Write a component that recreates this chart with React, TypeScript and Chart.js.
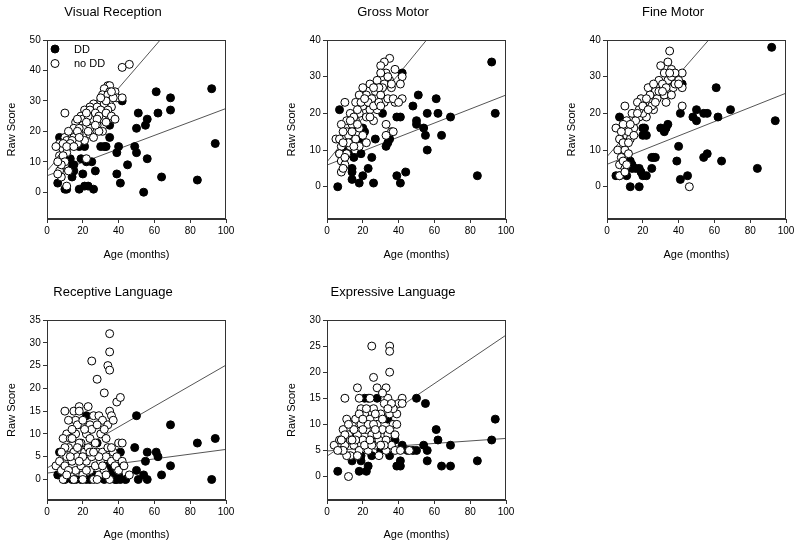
import React, { useEffect, useRef } from "react";
import { Chart, registerables } from "chart.js";

Chart.register(...registerables);

type P = [number, number];

const FONT = "'Liberation Sans', Arial, Helvetica, sans-serif";

const panelTitles = ["Visual Reception", "Gross Motor", "Fine Motor", "Receptive Language", "Expressive Language"];
const xAxisTitle = "Age (months)";
const yAxisTitle = "Raw Score";
const legendLabels = ["DD", "no DD"];

const xTicks = [0, 20, 40, 60, 80, 100];
const vrTicks = [0, 10, 20, 30, 40, 50];
const gmTicks = [0, 10, 20, 30, 40];
const fmTicks = [0, 10, 20, 30, 40];
const rlTicks = [0, 5, 10, 15, 20, 25, 30, 35];
const elTicks = [0, 5, 10, 15, 20, 25, 30];

// ---------- Visual Reception ----------
const vrDD: P[] = [
  [6, 3], [7, 18], [10, 1], [11, 1], [13, 11], [13, 9], [13, 7], [14, 5], [15, 7], [15, 9],
  [18, 15], [21, 15], [19, 11], [20, 6], [18, 1], [21, 2], [23, 2], [26, 1], [22, 10], [25, 10],
  [27, 7], [30, 15], [32, 15], [33, 15], [35, 22], [35, 18], [42, 30], [40, 15], [39, 13], [39, 6],
  [41, 3], [45, 9], [49, 15], [50, 13], [50, 21], [51, 26], [54, 0], [55, 22], [56, 24], [56, 11],
  [61, 33], [62, 26], [64, 5], [69, 31], [69, 27], [84, 4], [92, 34], [94, 16],
];
const vrNoDD: P[] = [
  [42, 41], [46, 42], [10, 26], [34, 35], [35, 35], [32, 34], [35, 33], [38, 33], [31, 32], [34, 32],
  [39, 31], [30, 30], [35, 30], [42, 31], [26, 29], [32, 29], [36, 28], [24, 28], [28, 28], [21, 27],
  [24, 27], [30, 27], [34, 27], [19, 25], [26, 25], [37, 24], [20, 24], [25, 24], [31, 24], [16, 23],
  [20, 22], [28, 22], [24, 21], [15, 21], [20, 21], [31, 20], [13, 19], [18, 19], [24, 19], [10, 18],
  [15, 18], [21, 17], [11, 17], [17, 16], [7, 16], [5, 15], [12, 15], [9, 14], [7, 12], [11, 13],
  [8, 11], [10, 9], [7, 7], [12, 7], [8, 5], [6, 6], [11, 2], [22, 11], [23, 25], [27, 26],
  [29, 25], [33, 26], [36, 25], [38, 24], [33, 23], [28, 24], [22, 23], [18, 21], [17, 20], [14, 17],
  [13, 16], [9, 12], [10, 10], [8, 9], [9, 16], [6, 10], [26, 18], [29, 20], [33, 30], [37, 31],
  [36, 33], [30, 31], [22, 26], [17, 24], [12, 20], [11, 15], [15, 15], [18, 18], [23, 20], [27, 22],
];
const vrFitNoDD: P[] = [[0, 7.0], [100, 75.0]];
const vrFitDD: P[] = [[0, 5.4], [100, 27.5]];

// ---------- Gross Motor ----------
const gmDD: P[] = [
  [6, 0], [7, 21], [7, 9], [14, 5], [14, 4], [14, 2], [15, 8], [18, 1], [19, 13], [19, 9],
  [20, 3], [20, 16], [21, 15], [23, 5], [25, 8], [26, 1], [27, 13], [31, 20], [33, 11], [34, 12],
  [35, 13], [39, 3], [39, 19], [41, 19], [41, 1], [42, 31], [44, 4], [48, 22], [51, 25], [50, 18],
  [50, 17], [54, 16], [55, 14], [56, 20], [56, 10], [61, 24], [62, 20], [64, 14], [69, 19], [84, 3],
  [92, 34], [94, 20], [12, 9], [10, 10],
];
const gmNoDD: P[] = [
  [35, 35], [32, 34], [38, 32], [30, 33], [33, 31], [30, 31], [35, 29], [42, 30], [41, 28], [28, 29],
  [24, 28], [32, 28], [20, 27], [27, 26], [36, 27], [22, 25], [30, 25], [18, 25], [25, 24], [32, 23],
  [38, 23], [42, 24], [10, 23], [16, 23], [20, 22], [24, 21], [28, 21], [13, 20], [18, 20], [22, 19],
  [11, 18], [16, 18], [26, 18], [8, 17], [14, 17], [33, 17], [11, 15], [18, 16], [36, 15], [5, 13],
  [10, 13], [16, 13], [33, 14], [8, 11], [13, 11], [18, 11], [7, 9], [11, 9], [8, 7], [10, 6],
  [8, 4], [9, 5], [12, 14], [14, 15], [20, 14], [22, 12], [15, 19], [19, 23], [23, 23], [26, 22],
  [29, 23], [34, 24], [37, 24], [31, 27], [29, 27], [34, 30], [36, 28], [26, 27], [21, 24], [17, 21],
  [13, 18], [9, 15], [7, 13], [12, 12], [15, 11], [10, 8], [9, 12], [17, 17], [24, 19], [30, 22],
  [37, 15], [40, 23],
];
const gmFitNoDD: P[] = [[0, 6.8], [100, 66.5]];
const gmFitDD: P[] = [[0, 5.9], [100, 25.0]];

// ---------- Fine Motor ----------
const fmDD: P[] = [
  [5, 3], [7, 3], [7, 19], [11, 3], [13, 7], [14, 6], [14, 5], [13, 0], [18, 0], [18, 5],
  [19, 4], [20, 3], [22, 3], [16, 5], [20, 14], [20, 16], [21, 16], [22, 14], [25, 8], [26, 8],
  [27, 8], [25, 5], [30, 16], [32, 15], [33, 16], [34, 17], [39, 7], [40, 11], [41, 20], [41, 2],
  [42, 28], [45, 3], [48, 19], [50, 18], [50, 21], [54, 20], [56, 20], [54, 8], [56, 9], [61, 27],
  [62, 19], [64, 7], [69, 21], [84, 5], [92, 38], [94, 18],
];
const fmNoDD: P[] = [
  [35, 37], [30, 33], [34, 34], [36, 32], [32, 31], [39, 30], [42, 31], [29, 29], [34, 29], [40, 29],
  [37, 27], [42, 27], [23, 27], [27, 26], [32, 25], [19, 24], [24, 25], [36, 25], [10, 22], [17, 23],
  [21, 22], [14, 20], [26, 21], [42, 22], [11, 18], [18, 19], [22, 19], [5, 16], [9, 17], [15, 16],
  [11, 14], [7, 13], [13, 13], [6, 10], [10, 10], [8, 8], [7, 6], [10, 5], [7, 3], [10, 4],
  [46, 0], [12, 15], [16, 18], [20, 20], [24, 23], [28, 24], [31, 28], [33, 27], [36, 30], [38, 28],
  [26, 28], [22, 24], [18, 21], [13, 17], [9, 12], [12, 9], [8, 15], [15, 14], [20, 22], [25, 22],
  [29, 26], [33, 23], [38, 31], [40, 28], [35, 31], [31, 26], [27, 23], [23, 21], [17, 20], [12, 12],
  [9, 7], [11, 6],
];
const fmFitNoDD: P[] = [[0, 8.2], [100, 64.2]];
const fmFitDD: P[] = [[0, 6.1], [100, 25.5]];

// ---------- Receptive Language ----------
const rlDD: P[] = [
  [94, 9], [84, 8], [92, 0], [69, 12], [69, 3], [64, 1], [61, 6], [62, 5], [56, 6], [55, 4],
  [54, 1], [50, 14], [49, 7], [50, 2], [51, 0], [56, 0], [41, 6], [42, 3], [39, 0], [40, 1],
  [44, 0], [41, 0], [28, 8], [22, 14], [7, 6], [6, 1], [34, 3], [35, 2], [26, 1], [19, 0],
  [14, 0], [22, 0], [32, 0], [38, 0], [12, 1], [16, 0], [24, 0], [30, 1], [36, 1], [10, 0],
];
const rlNoDD: P[] = [
  [35, 32], [35, 28], [25, 26], [34, 25], [35, 24], [28, 22], [32, 19], [39, 17], [41, 18], [10, 15],
  [15, 15], [18, 16], [23, 16], [18, 15], [35, 15], [36, 14], [26, 14], [29, 14], [31, 13], [16, 13],
  [19, 12], [24, 12], [34, 12], [37, 13], [11, 10], [16, 10], [22, 10], [30, 10], [9, 9], [13, 9],
  [19, 8], [24, 9], [33, 9], [40, 8], [42, 8], [5, 3], [7, 4], [8, 2], [9, 0], [10, 3],
  [11, 5], [12, 7], [13, 1], [14, 4], [15, 6], [16, 2], [17, 5], [18, 8], [19, 3], [20, 1],
  [21, 6], [22, 4], [23, 7], [24, 2], [25, 5], [26, 0], [27, 3], [28, 6], [29, 1], [30, 4],
  [31, 6], [32, 2], [33, 5], [34, 7], [35, 0], [36, 4], [37, 6], [38, 3], [39, 5], [42, 4],
  [46, 1], [10, 7], [12, 2], [14, 9], [17, 7], [20, 5], [22, 2], [24, 6], [27, 8], [29, 5],
  [31, 3], [33, 1], [36, 7], [13, 5], [18, 4], [26, 6], [15, 0], [20, 0], [28, 0], [8, 6],
  [11, 1], [40, 2], [43, 3], [25, 11], [28, 12], [21, 11], [17, 12], [14, 11], [32, 11], [12, 13],
  [20, 13],
];
const rlFitNoDD: P[] = [[0, 2.5], [100, 25.1]];
const rlFitDD: P[] = [[0, 1.4], [100, 6.6]];

// ---------- Expressive Language ----------
const elDD: P[] = [
  [6, 1], [13, 8], [14, 3], [19, 4], [19, 3], [18, 1], [22, 1], [23, 2], [21, 15], [23, 15],
  [28, 15], [34, 11], [35, 4], [38, 7], [39, 2], [41, 2], [41, 3], [42, 6], [45, 5], [48, 5],
  [50, 5], [50, 15], [55, 14], [54, 6], [56, 5], [56, 3], [61, 9], [62, 7], [64, 2], [69, 6],
  [69, 2], [84, 3], [92, 7], [94, 11], [30, 5], [25, 4], [35, 14], [26, 8],
];
const elNoDD: P[] = [
  [25, 25], [35, 25], [35, 24], [35, 20], [26, 19], [17, 17], [28, 17], [33, 17], [10, 15], [18, 15],
  [24, 15], [34, 15], [42, 15], [31, 16], [12, 0], [4, 6], [7, 7], [8, 5], [9, 9], [10, 6],
  [11, 11], [12, 8], [13, 4], [14, 10], [15, 6], [16, 11], [17, 8], [18, 5], [19, 10], [20, 7],
  [21, 12], [22, 9], [23, 5], [24, 11], [25, 8], [26, 13], [27, 6], [28, 10], [29, 7], [30, 12],
  [31, 9], [32, 14], [33, 5], [34, 8], [35, 12], [36, 6], [37, 10], [38, 5], [39, 12], [40, 14],
  [41, 5], [42, 14], [46, 5], [11, 4], [13, 7], [15, 9], [17, 4], [19, 13], [21, 6], [23, 10],
  [25, 6], [27, 12], [29, 4], [31, 11], [33, 7], [35, 9], [37, 13], [39, 10], [9, 5], [12, 10],
  [16, 7], [20, 9], [24, 7], [28, 8], [32, 6], [36, 14], [14, 7], [22, 13], [26, 10], [30, 6],
  [18, 12], [10, 8], [8, 7], [6, 5], [34, 13], [38, 8], [20, 11], [27, 9],
];
const elFitNoDD: P[] = [[0, 3.9], [100, 27.1]];
const elFitDD: P[] = [[0, 4.9], [100, 7.3]];

interface PanelSpec {
  title: string;
  dd: P[];
  noDD: P[];
  fitNoDD: P[];
  fitDD: P[];
  yMin: number;
  yMax: number;
  yTicks: number[];
  left: number;
  top: number;
  xH: number;
  legend: boolean;
}

const panels: PanelSpec[] = [
  { title: panelTitles[0], dd: vrDD, noDD: vrNoDD, fitNoDD: vrFitNoDD, fitDD: vrFitDD, yMin: -8.8, yMax: 50, yTicks: vrTicks, left: 0, top: 0, xH: 51, legend: true },
  { title: panelTitles[1], dd: gmDD, noDD: gmNoDD, fitNoDD: gmFitNoDD, fitDD: gmFitDD, yMin: -8.8, yMax: 40, yTicks: gmTicks, left: 280, top: 0, xH: 51, legend: false },
  { title: panelTitles[2], dd: fmDD, noDD: fmNoDD, fitNoDD: fmFitNoDD, fitDD: fmFitDD, yMin: -8.8, yMax: 40, yTicks: fmTicks, left: 560, top: 0, xH: 51, legend: false },
  { title: panelTitles[3], dd: rlDD, noDD: rlNoDD, fitNoDD: rlFitNoDD, fitDD: rlFitDD, yMin: -4.5, yMax: 35, yTicks: rlTicks, left: 0, top: 280, xH: 50, legend: false },
  { title: panelTitles[4], dd: elDD, noDD: elNoDD, fitNoDD: elFitNoDD, fitDD: elFitDD, yMin: -4.5, yMax: 30, yTicks: elTicks, left: 280, top: 280, xH: 50, legend: false },
];

const AXIS = "#333";

const framePlugin = {
  id: "frameBox",
  afterDatasetsDraw(chart: any) {
    const { ctx, chartArea } = chart;
    ctx.save();
    ctx.strokeStyle = AXIS;
    ctx.lineWidth = 1;
    const l = Math.round(chartArea.left) + 0.5;
    const t = Math.round(chartArea.top) + 0.5;
    const r = Math.round(chartArea.right) - 0.5;
    const b = Math.round(chartArea.bottom) - 0.5;
    ctx.strokeRect(l, t, r - l, b - t);
    ctx.restore();
  },
};

const legendPlugin = {
  id: "innerLegend",
  afterDraw(chart: any) {
    const { ctx, chartArea } = chart;
    const fills = ["#000", "#fff"];
    ctx.save();
    ctx.font = `11px ${FONT}`;
    ctx.textBaseline = "middle";
    ctx.textAlign = "left";
    legendLabels.forEach((label, i) => {
      const cx = chartArea.left + 8;
      const cy = chartArea.top + 9 + i * 14.5;
      ctx.beginPath();
      ctx.arc(cx, cy, 4, 0, Math.PI * 2);
      ctx.fillStyle = fills[i];
      ctx.fill();
      ctx.lineWidth = 1;
      ctx.strokeStyle = "#000";
      ctx.stroke();
      ctx.fillStyle = "#000";
      ctx.fillText(label, chartArea.left + 27, cy + 0.5);
    });
    ctx.restore();
  },
};

const toXY = (arr: P[]) => arr.map(([x, y]) => ({ x, y }));

function Panel({ spec }: { spec: PanelSpec }) {
  const ref = useRef<HTMLCanvasElement>(null);
  useEffect(() => {
    const canvas = ref.current;
    if (!canvas) return;
    const tickFont = { family: FONT, size: 10 };
    const chart = new Chart(canvas, {
      type: "scatter",
      data: {
        datasets: [
          {
            label: legendLabels[1],
            data: toXY(spec.noDD),
            backgroundColor: "#fff",
            borderColor: "#000",
            borderWidth: 1,
            pointRadius: 4,
            pointHoverRadius: 4,
          },
          {
            label: legendLabels[0],
            data: toXY(spec.dd),
            backgroundColor: "#000",
            borderColor: "#000",
            borderWidth: 1,
            pointRadius: 4,
            pointHoverRadius: 4,
          },
          {
            label: "fit " + legendLabels[1],
            data: toXY(spec.fitNoDD),
            showLine: true,
            pointRadius: 0,
            borderColor: "#555",
            borderWidth: 1,
            fill: false,
          } as any,
          {
            label: "fit " + legendLabels[0],
            data: toXY(spec.fitDD),
            showLine: true,
            pointRadius: 0,
            borderColor: "#555",
            borderWidth: 1,
            fill: false,
          } as any,
        ],
      },
      options: {
        responsive: false,
        animation: false,
        events: [],
        layout: { padding: { left: 0, right: 14, top: 0, bottom: 0 } },
        plugins: {
          legend: { display: false },
          tooltip: { enabled: false },
          title: {
            display: true,
            text: spec.title,
            color: "#000",
            font: { family: FONT, size: 13, weight: "normal" as any, lineHeight: 1.2 },
            padding: { top: 4.7, bottom: 19.7 },
          },
        },
        scales: {
          x: {
            type: "linear",
            min: 0,
            max: 100,
            afterBuildTicks: (s: any) => {
              s.ticks = xTicks.map((v) => ({ value: v }));
            },
            afterFit: (s: any) => {
              s.height = spec.xH;
            },
            ticks: { color: "#000", font: tickFont, padding: 2.5, maxRotation: 0, autoSkip: false },
            grid: { drawOnChartArea: false, drawTicks: true, tickLength: 4, color: AXIS },
            border: { display: true, color: AXIS },
            title: {
              display: true,
              text: xAxisTitle,
              color: "#000",
              font: { family: FONT, size: 11, lineHeight: 1.2 },
              padding: { top: 0, bottom: 8.7 },
            },
          },
          y: {
            type: "linear",
            min: spec.yMin,
            max: spec.yMax,
            afterBuildTicks: (s: any) => {
              s.ticks = spec.yTicks.map((v) => ({ value: v }));
            },
            afterFit: (s: any) => {
              s.width = 47;
            },
            ticks: { color: "#000", font: tickFont, padding: 2.3, autoSkip: false },
            grid: { drawOnChartArea: false, drawTicks: true, tickLength: 4, color: AXIS },
            border: { display: true, color: AXIS },
            title: {
              display: true,
              text: yAxisTitle,
              color: "#000",
              font: { family: FONT, size: 11, lineHeight: 1.2 },
              padding: { top: 5.4, bottom: 0 },
            },
          },
        },
      },
      plugins: spec.legend ? [framePlugin, legendPlugin] : [framePlugin],
    } as any);
    return () => chart.destroy();
  }, [spec]);
  return (
    <canvas
      ref={ref}
      width={240}
      height={270}
      style={{ position: "absolute", left: spec.left, top: spec.top, width: 240, height: 270, display: "block" }}
    />
  );
}

export default function App() {
  return (
    <div style={{ position: "absolute", left: 0, top: 0, width: 800, height: 548, background: "#fff", overflow: "hidden" }}>
      {panels.map((p) => (
        <Panel key={p.title} spec={p} />
      ))}
    </div>
  );
}
